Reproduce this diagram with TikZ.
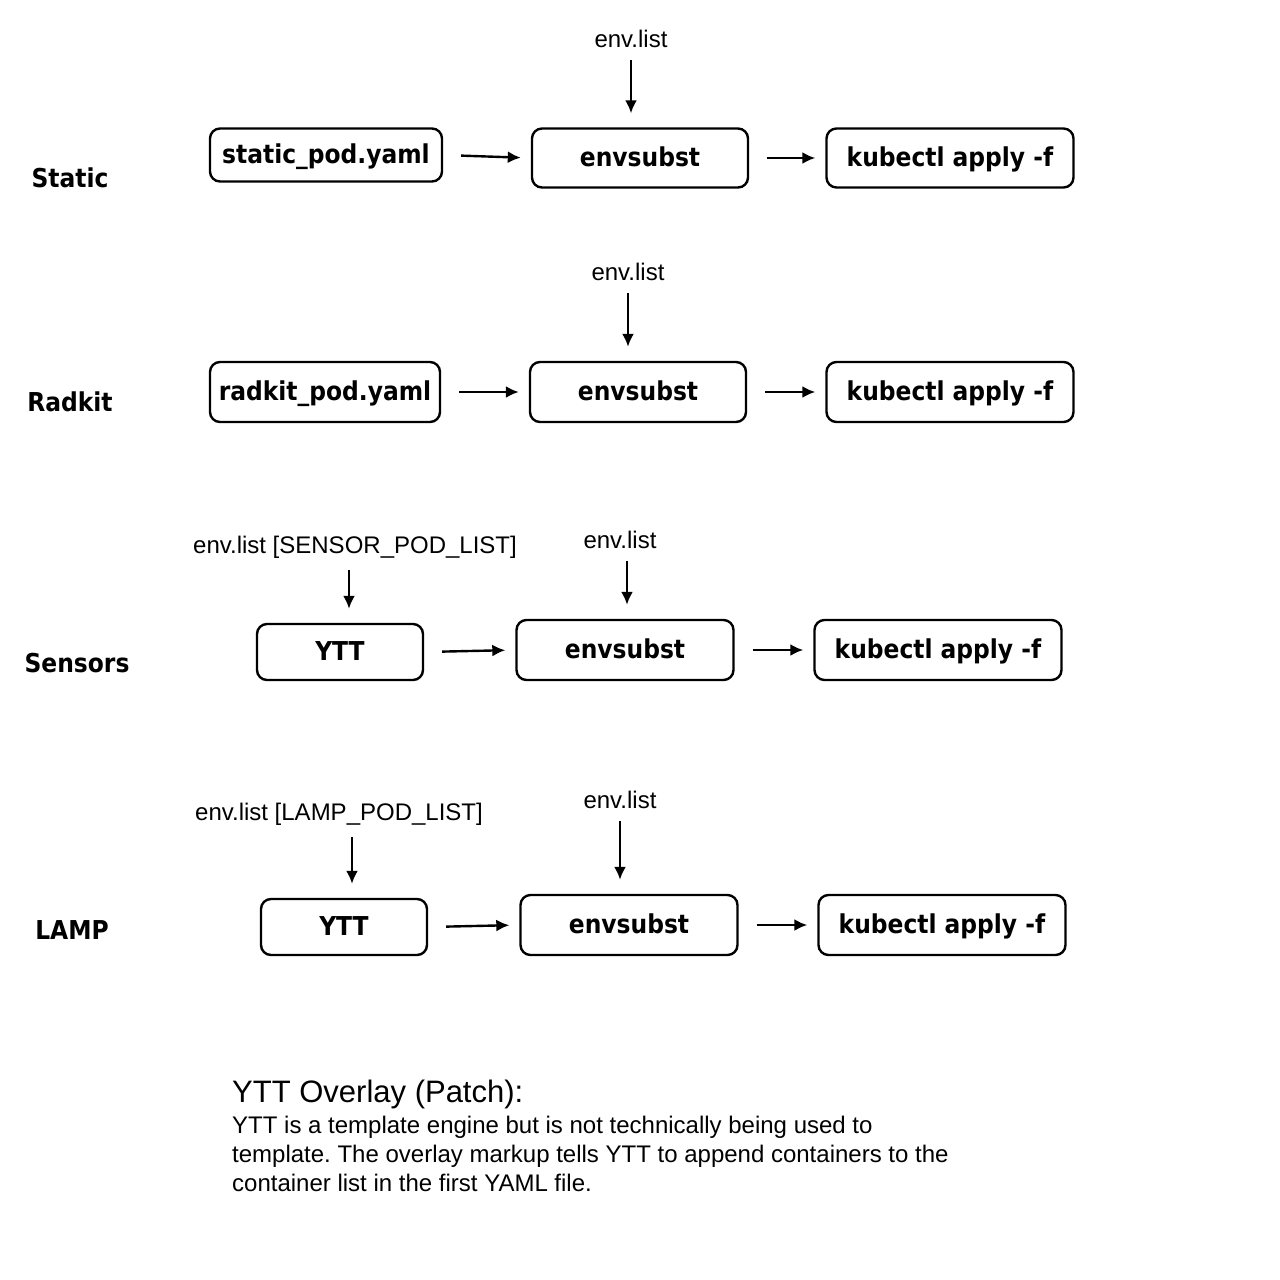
\documentclass[tikz,border=0pt]{standalone}
\usepackage{fontspec}
\setmainfont{Liberation Sans}
\newfontfamily\handfont{DejaVu Sans Condensed}
\usepackage{tikz}
\usetikzlibrary{arrows.meta}
\frenchspacing

\begin{document}
\begin{tikzpicture}[x=1pt, y=-1pt,
  box/.style={draw, line width=2.4pt, rounded corners=10pt, inner sep=0pt,
    text depth=2pt, font=\handfont\bfseries\fontsize{26}{28}\selectfont},
  rowlabel/.style={font=\handfont\bfseries\fontsize{26}{30}\selectfont},
  envlabel/.style={font=\fontsize{24}{28}\selectfont, inner sep=2pt},
  flow/.style={-{Latex[length=13pt,width=12pt]}, line width=2.4pt,
    shorten <=18pt, shorten >=10pt},
  feed/.style={-{Latex[length=13pt,width=12pt]}, line width=2.4pt,
    shorten <=10pt, shorten >=14pt}]
\useasboundingbox[fill=white] (0,0) rectangle (1280,1280);

% Static
\node[rowlabel] (static) at (70,178) {Static};
\node[box, minimum width=232, minimum height=53] (s1) at (326,155) {static\_pod.yaml};
\node[box, minimum width=216, minimum height=59] (s2) at (640,158) {envsubst};
\node[box, minimum width=247, minimum height=59] (s3) at (950,158) {kubectl apply -f};
\node[envlabel] (senv) at (631,39) {env.list};
\draw[feed] (senv.south) -- (senv.south |- s2.north);
\draw[flow] (s1.east) -- (s2.west);
\draw[flow] (s2.east) -- (s3.west);

% Radkit
\node[rowlabel] (radkit) at (70,402) {Radkit};
\node[box, minimum width=230, minimum height=60] (r1) at (325,392) {radkit\_pod.yaml};
\node[box, minimum width=216, minimum height=60] (r2) at (638,392) {envsubst};
\node[box, minimum width=247, minimum height=60] (r3) at (950,392) {kubectl apply -f};
\node[envlabel] (renv) at (628,272) {env.list};
\draw[feed] (renv.south) -- (renv.south |- r2.north);
\draw[flow] (r1.east) -- (r2.west);
\draw[flow] (r2.east) -- (r3.west);

% Sensors
\node[rowlabel] (sensors) at (77,663) {Sensors};
\node[box, minimum width=166, minimum height=56] (y1) at (340,652) {YTT};
\node[box, minimum width=217, minimum height=60] (y2) at (625,650) {envsubst};
\node[box, minimum width=247, minimum height=60] (y3) at (938,650) {kubectl apply -f};
\node[envlabel] (ylist) at (355,547) {env.list [SENSOR\_POD\_LIST]};
\node[envlabel] (yenv) at (620,540) {env.list};
\draw[feed] (ylist.south -| 349,0) -- (349,0 |- y1.north);
\draw[feed] (yenv.south -| 627,0) -- (627,0 |- y2.north);
\draw[flow] (y1.east) -- (y2.west);
\draw[flow] (y2.east) -- (y3.west);

% LAMP
\node[rowlabel] (lamp) at (72,930) {LAMP};
\node[box, minimum width=166, minimum height=56] (l1) at (344,927) {YTT};
\node[box, minimum width=217, minimum height=60] (l2) at (629,925) {envsubst};
\node[box, minimum width=247, minimum height=60] (l3) at (942,925) {kubectl apply -f};
\node[envlabel] (llist) at (339,814) {env.list [LAMP\_POD\_LIST]};
\node[envlabel] (lenv) at (620,800) {env.list};
\draw[feed] (llist.south -| 352,0) -- (352,0 |- l1.north);
\draw[feed] (lenv.south) -- (lenv.south |- l2.north);
\draw[flow] (l1.east) -- (l2.west);
\draw[flow] (l2.east) -- (l3.west);

% note
\node[anchor=north west, inner sep=0pt, align=left, font=\fontsize{24}{29}\selectfont] (note) at (232,1080)
  {{\fontsize{31}{30}\selectfont YTT Overlay (Patch):}\\[2pt]
   YTT is a template engine but is not technically being used to\\
   template. The overlay markup tells YTT to append containers to the\\
   container list in the first YAML file.};
\end{tikzpicture}
\end{document}
